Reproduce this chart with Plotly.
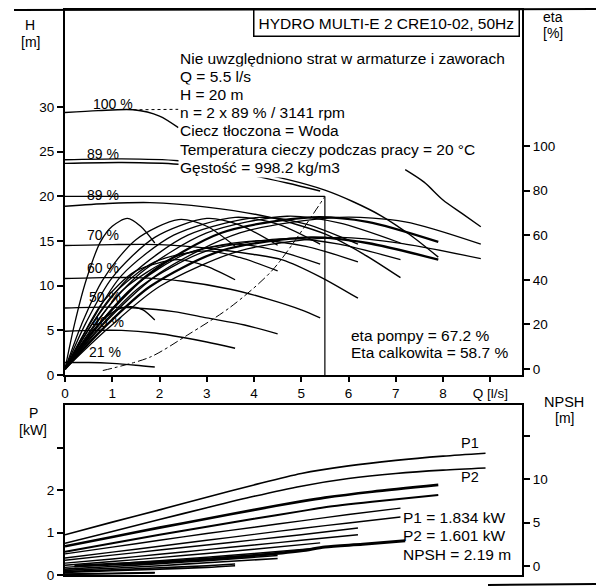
import plotly.graph_objects as go

# ---------------- data ----------------
# Q-H curves, upper plot, left axis H [m]
qh_100_q = [0, 0.7, 1.45, 2.0, 2.4, None, 7.2, 7.6, 8.0, 8.4, 8.8]
qh_100_h = [29.4, 29.6, 29.7, 29.0, 27.7, None, 23.0, 21.6, 19.6, 18.1, 16.6]
qh_100dot_q = [1.45, 2.0, 2.4]
qh_100dot_h = [29.7, 29.75, 29.75]
qh_89a_q = [0, 1.2, 2.4, 3.5, 4.7, 5.5, 6.1, 6.7, 7.3, 7.9]
qh_89a_h = [24.1, 24.2, 24.0, 23.2, 21.9, 20.7, 19.4, 17.8, 15.7, 13.2]
qh_89b_q = [0, 1.2, 2.4, 3.5, 4.7, 5.4]
qh_89b_h = [23.7, 23.8, 23.6, 22.8, 21.5, 20.6]
qh_80_q = [0, 0.9, 1.8, 3.0, 4.3, 5.5, 6.3, 7.1]
qh_80_h = [18.9, 19.2, 19.3, 18.8, 17.7, 15.8, 13.6, 10.9]
qh_70_q = [0, 1.0, 2.0, 3.0, 4.0, 4.6, 5.4, 6.2]
qh_70_h = [14.5, 14.6, 14.6, 14.2, 13.5, 12.9, 11.0, 8.6]
qh_60_q = [0, 0.8, 1.5, 2.5, 3.5, 4.3, 5.0, 5.4]
qh_60_h = [10.8, 10.9, 10.9, 10.5, 9.6, 8.5, 7.3, 6.4]
qh_50_q = [0, 0.8, 1.5, 2.3, 3.0, 3.8, 4.5]
qh_50_h = [7.5, 7.6, 7.5, 7.1, 6.4, 5.6, 4.6]
qh_40_q = [0, 0.6, 1.2, 1.9, 2.5, 3.0, 3.6]
qh_40_h = [4.9, 5.0, 5.0, 4.7, 4.2, 3.7, 3.0]
qh_21_q = [0, 0.5, 1.0, 1.5, 1.9]
qh_21_h = [1.4, 1.4, 1.3, 1.1, 0.9]

# system curve (dash-dot) and duty point
sys_q = [0.8, 1.8, 2.6, 3.5, 4.4, 5.5]
sys_h = [0.5, 2.0, 4.5, 7.6, 11.8, 20.0]
duty_q = 5.5
duty_h = 20.0

# efficiency curves, right axis eta [%]  (p = pump, t = total)
eta_21p_q = [0, 0.2, 0.45, 0.75, 1.0, 1.32, 1.6, 1.9]
eta_21p = [0, 20, 40, 57, 64, 67.5, 64, 56.5]
eta_21t_q = [0, 0.25, 0.5, 0.8, 1.1, 1.4, 1.65, 1.9]
eta_21t = [0, 8, 15, 22, 26.5, 28, 26.5, 22]
eta_40_q = [0, 0.35, 0.8, 1.5, 2.4, 3.0, 3.6]
eta_40p = [0, 20, 40, 58, 67, 64, 55]
eta_40t = [0, 14, 30, 44, 49, 46, 40]
eta_50_q = [0, 0.45, 1.0, 1.9, 3.0, 3.7, 4.5]
eta_50p = [0, 21, 41, 59, 67.5, 64.5, 55.5]
eta_50t = [0, 16, 33, 48, 53, 50, 44]
eta_60_q = [0, 0.55, 1.2, 2.3, 3.6, 4.5, 5.4]
eta_60p = [0, 21, 42, 60, 68, 65, 56]
eta_60t = [0, 17, 35, 50, 56, 53, 47]
eta_70_q = [0, 0.6, 1.4, 2.6, 4.1, 5.1, 6.2]
eta_70p = [0, 21, 42, 60, 68, 65, 56]
eta_70t = [0, 17, 36, 52, 57.5, 55, 48]
eta_80_q = [0, 0.7, 1.6, 3.0, 4.7, 5.8, 7.1]
eta_80p = [0, 22, 43, 61, 68.5, 65.5, 56.5]
eta_80t = [0, 18, 37, 53, 58.5, 56, 49]
eta_89_q = [0, 0.8, 1.8, 3.3, 5.2, 6.4, 7.9]
eta_89p = [0, 22, 43, 61, 68, 66, 57]
eta_89t = [0, 18, 37, 53, 59, 56.5, 49]
eta_100_q = [0, 0.9, 2.0, 3.7, 5.8, 7.2, 8.8]
eta_100p = [0, 22, 43, 61, 68, 66, 56]
eta_100t = [0, 18, 37, 53, 59, 56, 49.5]

# power curves, lower plot, left axis P [kW]
p_100_q = [0, 1, 2, 3, 4, 5, 6, 7, 8, 8.9]
p1_100 = [0.95, 1.25, 1.54, 1.84, 2.13, 2.40, 2.58, 2.71, 2.81, 2.88]
p2_100 = [0.75, 1.03, 1.31, 1.59, 1.86, 2.10, 2.28, 2.40, 2.48, 2.53]
p_89_q = [0, 1, 2, 3, 4, 5, 5.5, 6.5, 7.9]
p1_89 = [0.68, 0.90, 1.12, 1.33, 1.54, 1.74, 1.83, 1.97, 2.13]
p2_89 = [0.55, 0.75, 0.95, 1.14, 1.33, 1.51, 1.60, 1.73, 1.89]
p_80_q = [0, 1, 2, 3, 4, 5, 6, 7.1]
p1_80 = [0.50, 0.66, 0.82, 0.98, 1.13, 1.28, 1.43, 1.58]
p2_80 = [0.40, 0.54, 0.68, 0.82, 0.96, 1.10, 1.23, 1.37]
p_70_q = [0, 1, 2, 3, 4, 5, 6.2]
p1_70 = [0.35, 0.47, 0.59, 0.71, 0.83, 0.95, 1.11]
p2_70 = [0.28, 0.38, 0.49, 0.60, 0.71, 0.82, 0.95]
p_60_q = [0, 1, 2, 3, 4, 5.4]
p1_60 = [0.23, 0.32, 0.41, 0.51, 0.61, 0.76]
p2_60 = [0.18, 0.26, 0.34, 0.42, 0.51, 0.64]
p_50_q = [0, 1, 2, 3, 4.5]
p1_50 = [0.14, 0.20, 0.27, 0.34, 0.46]
p2_50 = [0.11, 0.16, 0.22, 0.29, 0.39]
p_40_q = [0, 1, 2, 3, 3.6]
p1_40 = [0.08, 0.12, 0.17, 0.22, 0.26]
p2_40 = [0.06, 0.10, 0.14, 0.18, 0.22]
p_21_q = [0, 1, 1.9]
p1_21 = [0.02, 0.04, 0.06]
p2_21 = [0.015, 0.03, 0.05]

# NPSH curve, lower plot, right axis [m]
npsh_q = [0.2, 1, 2, 3, 4, 5, 5.5, 6.3, 7.2]
npsh_m = [0.0, 0.2, 0.45, 0.8, 1.2, 1.75, 2.19, 2.5, 2.9]

# tick labels
x_tickvals = [0, 1, 2, 3, 4, 5, 6, 7, 8, 9]
x_ticktext = ["0", "1", "2", "3", "4", "5", "6", "7", "8", "Q [l/s]"]
h_ticks = [0, 5, 10, 15, 20, 25, 30]
eta_ticks = [0, 20, 40, 60, 80, 100]
p_tickvals = [0, 1, 2, 3]
p_ticktext = ["0", "1", "2", ""]
npsh_tickvals = [0, 5, 10, 15]
npsh_ticktext = ["0", "5", "10", ""]

speed_labels = ["100 %", "89 %", "89 %", "70 %", "60 %", "50 %", "40 %", "21 %"]

info_lines = [
    "Nie uwzględniono strat w armaturze i zaworach",
    "Q = 5.5 l/s",
    "H = 20 m",
    "n = 2 x 89 % / 3141 rpm",
    "Ciecz tłoczona = Woda",
    "Temperatura cieczy podczas pracy = 20 °C",
    "Gęstość = 998.2 kg/m3",
]

# ---------------- layout geometry ----------------
# screen pixel coordinates of the target are used; the page body adds an 8 px offset
OFF = 8
WF, HF = 604 - OFF, 587 - OFF
PL, PR, PT, PB = 65, 522, 10, 575          # plot-area box in screen pixels
ML, MR, MT, MB = PL - OFF, WF - (PR - OFF), PT - OFF, HF - (PB - OFF)


def pxx(x):
    return ((x - OFF) - ML) / (WF - ML - MR)


def pxy(y):
    return (HF - MB - (y - OFF)) / (HF - MT - MB)


FONT = "Liberation Sans, Arial, sans-serif"
BIG = 15.5
fig = go.Figure()


def line(q, v, xa="x", ya="y", w=1.4, dash="solid", shape="spline"):
    fig.add_trace(go.Scatter(x=q, y=v, xaxis=xa, yaxis=ya, mode="lines",
                             line=dict(color="black", width=w, dash=dash, shape=shape,
                                       smoothing=0.8),
                             hoverinfo="skip", showlegend=False, connectgaps=False))


# QH curves
line(qh_100_q, qh_100_h)
line(qh_100dot_q, qh_100dot_h, w=1.0, dash="dot", shape="linear")
line(qh_89a_q, qh_89a_h)
line(qh_89b_q, qh_89b_h)
line(qh_80_q, qh_80_h)
line(qh_70_q, qh_70_h)
line(qh_60_q, qh_60_h)
line(qh_50_q, qh_50_h)
line(qh_40_q, qh_40_h)
line(qh_21_q, qh_21_h)
line(sys_q, sys_h, w=1.0, dash="dashdot")
# duty point lines
line([0, duty_q], [duty_h, duty_h], w=1.2, shape="linear")
line([duty_q, duty_q], [0, duty_h], w=1.2, shape="linear")

# efficiency curves on right axis
for q, v, w in [
    (eta_21p_q, eta_21p, 1.3), (eta_21t_q, eta_21t, 1.3),
    (eta_40_q, eta_40p, 1.3), (eta_40_q, eta_40t, 1.3),
    (eta_50_q, eta_50p, 1.3), (eta_50_q, eta_50t, 1.3),
    (eta_60_q, eta_60p, 1.3), (eta_60_q, eta_60t, 1.3),
    (eta_70_q, eta_70p, 1.3), (eta_70_q, eta_70t, 1.3),
    (eta_80_q, eta_80p, 1.3), (eta_80_q, eta_80t, 1.3),
    (eta_89_q, eta_89p, 2.3), (eta_89_q, eta_89t, 2.3),
    (eta_100_q, eta_100p, 1.3), (eta_100_q, eta_100t, 1.3),
]:
    line(q, v, ya="y2", w=w)

# power curves
for q, v, w in [
    (p_100_q, p1_100, 1.6), (p_100_q, p2_100, 1.6),
    (p_89_q, p1_89, 2.6), (p_89_q, p2_89, 2.0),
    (p_80_q, p1_80, 1.4), (p_80_q, p2_80, 1.4),
    (p_70_q, p1_70, 1.4), (p_70_q, p2_70, 1.4),
    (p_60_q, p1_60, 1.4), (p_60_q, p2_60, 1.4),
    (p_50_q, p1_50, 1.6), (p_50_q, p2_50, 1.6),
    (p_40_q, p1_40, 1.6), (p_40_q, p2_40, 1.6),
    (p_21_q, p1_21, 1.6), (p_21_q, p2_21, 1.6),
]:
    line(q, v, xa="x2", ya="y3", w=w)
line(npsh_q, npsh_m, xa="x2", ya="y4", w=3.0)

ax_common = dict(showgrid=False, zeroline=False, showline=True, linecolor="black",
                 linewidth=2, tickcolor="black", tickwidth=1.5, automargin=False,
                 tickfont=dict(family=FONT, size=13.5, color="black"))

XR = [0, (PR - PL) / 47.25]
up_bottom = pxy(375)
low_top = pxy(405)

fig.update_layout(
    width=WF, height=HF, margin=dict(l=ML, r=MR, t=MT, b=MB),
    paper_bgcolor="white", plot_bgcolor="white",
    font=dict(family=FONT, size=13, color="black"),
    xaxis=dict(**ax_common, domain=[0, 1], anchor="y", range=XR, mirror=True,
               ticks="outside", ticklen=5, tickvals=x_tickvals, ticktext=x_ticktext),
    yaxis=dict(**ax_common, domain=[up_bottom, 1], anchor="x", range=[0, (375 - PT) / 8.93],
               ticks="outside", ticklen=6, tickvals=h_ticks),
    yaxis2=dict(**ax_common, overlaying="y", side="right", anchor="x",
                range=[(369 - 375) * 0.4484, (369 - PT) * 0.4484],
                ticks="outside", ticklen=6, tickvals=eta_ticks),
    xaxis2=dict(**ax_common, domain=[0, 1], anchor="y3", range=XR, mirror=True,
                ticks="", showticklabels=False),
    yaxis3=dict(**ax_common, domain=[0, low_top], anchor="x2", range=[0, 170 / 42.3],
                ticks="outside", ticklen=6, tickvals=p_tickvals, ticktext=p_ticktext),
    yaxis4=dict(**ax_common, overlaying="y3", side="right", anchor="x2",
                range=[(566 - 575) / 8.7, (566 - 405) / 8.7],
                ticks="outside", ticklen=6, tickvals=npsh_tickvals, ticktext=npsh_ticktext),
)

ann = []


def text(x, y, s, xanchor="center", size=14, **kw):
    ann.append(dict(x=pxx(x), y=pxy(y), xref="paper", yref="paper", text=s,
                    showarrow=False, xanchor=xanchor, yanchor="middle",
                    font=dict(family=FONT, size=size, color="black"), **kw))


# axis titles
text(30, 25, "H")
text(30, 42, "[m]")
text(553, 17, "eta")
text(553, 33, "[%]")
text(33, 413, "P")
text(33, 430, "[kW]")
text(564, 402, "NPSH", size=14.5)
text(564, 418, "[m]")

# info block (white background hides curves behind it)
for i, s in enumerate(info_lines):
    text(178, 58 + i * 18.2, s, xanchor="left", size=BIG, bgcolor="white", borderpad=1)

# title box
ann.append(dict(x=pxx(520), y=pxy(9), xref="paper", yref="paper",
                text="HYDRO MULTI-E 2 CRE10-02, 50Hz", showarrow=False,
                xanchor="right", yanchor="top", bgcolor="white",
                bordercolor="black", borderwidth=1.5, borderpad=4,
                font=dict(family=FONT, size=BIG, color="black")))

# speed labels
for (x, y), s in zip([(113, 104), (103, 154), (103, 195), (103, 235), (103, 268),
                      (105, 297), (108, 322), (105, 352)], speed_labels):
    text(x, y, s)

text(349, 335, "eta pompy = 67.2 %", xanchor="left", size=BIG)
text(349, 353, "Eta calkowita = 58.7 %", xanchor="left", size=BIG)

text(470, 443, "P1", size=14.5)
text(470, 477, "P2", size=14.5)
text(401, 517, "P1 = 1.834 kW", xanchor="left", size=BIG)
text(401, 535, "P2 = 1.601 kW", xanchor="left", size=BIG)
text(401, 554, "NPSH = 2.19 m", xanchor="left", size=BIG)

fig.update_layout(annotations=ann)

# scan border lines
fig.add_shape(type="line", xref="paper", yref="paper", x0=pxx(14), y0=pxy(10),
              x1=pxx(604), y1=pxy(9), line=dict(color="black", width=2))
fig.add_shape(type="line", xref="paper", yref="paper", x0=pxx(488), y0=pxy(585),
              x1=pxx(604), y1=pxy(584), line=dict(color="black", width=2))

fig.write_html("out.html")
